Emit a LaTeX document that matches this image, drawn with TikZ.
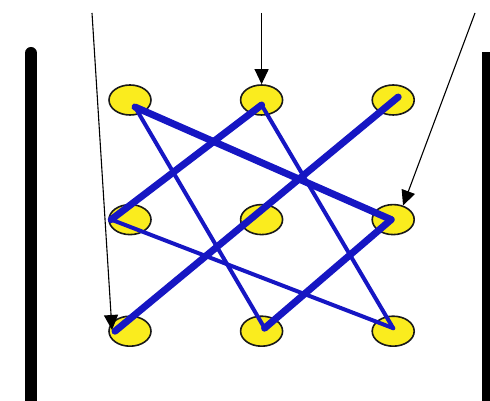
\documentclass[tikz,border=0pt]{standalone}
\usepackage{xcolor}
\usetikzlibrary{arrows.meta}
\usetikzlibrary{positioning, shapes.geometric}
\definecolor{stringblue}{RGB}{22,22,195}
\definecolor{pegyellow}{RGB}{250,236,30}

\begin{document}
\begin{tikzpicture}[x=1pt,y=1pt,
    peg/.style={ellipse, draw=black!90, fill=pegyellow, line width=1.6pt,
        minimum width=42pt, minimum height=30pt, inner sep=0pt},
    thickstring/.style={stringblue, line width=7pt, line cap=round},
    thinstring/.style={stringblue, line width=4pt, line cap=round},
    pointer/.style={line width=1.1pt, -{Triangle[length=15pt,width=14pt]}}]
    \useasboundingbox (0,0) rectangle (490,401);
    % side bars
    \draw [line width=12pt, line cap=round] (31,-10) -- (31,348);
    \fill (482,0) rectangle (496,349);
    % pegs
    \node [peg] (d11) at (130,301) {};
    \node [peg, right=88pt of d11] (d12) {};
    \node [peg, right=88pt of d12] (d13) {};
    \node [peg, below=88pt of d11] (d21) {};
    \node [peg, right=88pt of d21] (d22) {};
    \node [peg, right=88pt of d22] (d23) {};
    \node [peg, below=80pt of d21] (d31) {};
    \node [peg, right=88pt of d31] (d32) {};
    \node [peg, right=88pt of d32] (d33) {};
    % where the string is tied
    \coordinate (v11) at ([shift={(5,-7)}]d11.center);
    \coordinate (v12) at ([shift={(0,-5)}]d12.center);
    \coordinate (v13) at ([shift={(5,3)}]d13.center);
    \coordinate (v21) at ([shift={(3,0)}]d21.west);
    \coordinate (v23) at ([shift={(-2,0)}]d23.center);
    \coordinate (v31) at ([shift={(-15,0)}]d31.center);
    \coordinate (v32) at ([shift={(3,3)}]d32.center);
    \coordinate (v33) at ([shift={(0,3)}]d33.center);
    \draw [thinstring] (v11) -- (v32);   % down from top left
    \draw [thinstring] (v12) -- (v33);   % down from top middle
    \draw [thinstring] (v21) -- (v33);   % across from middle left
    \draw [thickstring] (v13) -- (v31);  % long diagonal
    \draw [thickstring] (v12) -- (v21);
    \draw [thickstring] (v23) -- (v32);
    \draw [thickstring] (v11) -- (v23);
    % pointers
    \coordinate (p1) at (92,388);
    \coordinate (p2) at (d12 |- 0,388);
    \coordinate (p3) at (475,388);
    \coordinate (t1) at (112,71);
    \draw [pointer] (p1) -- (t1);
    \draw [pointer] (p2) -- (d12.north);
    \draw [pointer] (p3) -- (d23.55);
\end{tikzpicture}
\end{document}
